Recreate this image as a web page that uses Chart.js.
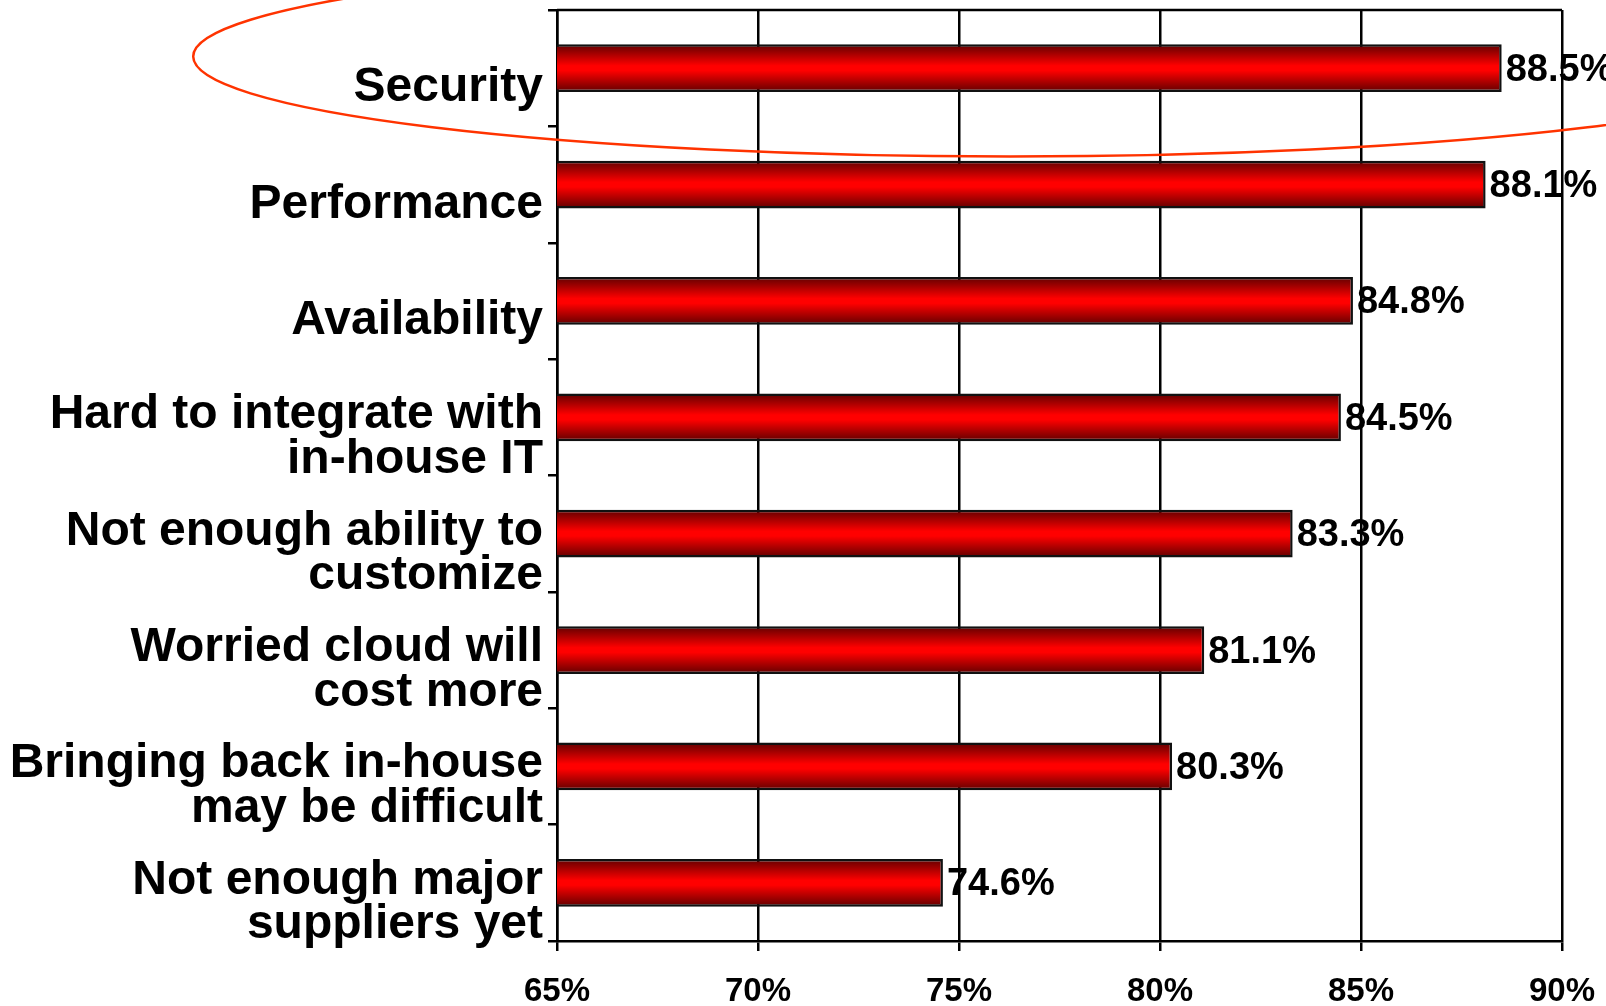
<!DOCTYPE html>
<html>
<head>
<meta charset="utf-8">
<script src="https://cdn.jsdelivr.net/npm/chart.js@4/dist/chart.umd.min.js"></script>
<style>
  html, body { margin: 0; padding: 0; background: #ffffff; }
  #wrap { width: 1606px; height: 1006px; position: relative; }
</style>
</head>
<body>
<div id="wrap"><canvas id="c"></canvas></div>
<script>
// ---- data ----
const categories = [
  'Security',
  'Performance',
  'Availability',
  ['Hard to integrate with', 'in-house IT'],
  ['Not enough ability to', 'customize'],
  ['Worried cloud will', 'cost more'],
  ['Bringing back in-house', 'may be difficult'],
  ['Not enough major', 'suppliers yet']
];
const values = [88.5, 88.1, 84.8, 84.5, 83.3, 81.1, 80.3, 74.6];
const axisMin = 65;
const axisMax = 90;
const axisStep = 5;
const highlightIndex = 0; // "Security" is circled

const FONT = '"Liberation Sans", Arial, Helvetica, sans-serif';
const BAR_PCT = 0.41;

function barGradient(ctx) {
  const chart = ctx.chart;
  const ys = chart.scales && chart.scales.y;
  if (!chart.chartArea || !ys) return '#ff0000';
  const c = ys.getPixelForValue(ctx.dataIndex);
  const band = Math.abs(ys.getPixelForValue(1) - ys.getPixelForValue(0));
  const h = band * BAR_PCT;
  const g = chart.ctx.createLinearGradient(0, c - h / 2, 0, c + h / 2);
  g.addColorStop(0, '#600000');
  g.addColorStop(0.45, '#ff0000');
  g.addColorStop(0.55, '#ff0000');
  g.addColorStop(1, '#600000');
  return g;
}

const valueLabels = {
  id: 'valueLabels',
  afterDatasetsDraw(chart) {
    const ctx = chart.ctx;
    const meta = chart.getDatasetMeta(0);
    ctx.save();
    ctx.font = 'bold 38px ' + FONT;
    ctx.fillStyle = '#000000';
    ctx.textAlign = 'left';
    ctx.textBaseline = 'middle';
    meta.data.forEach((el, i) => {
      ctx.fillText(values[i].toFixed(1) + '%', el.x + 4, el.y + 2);
    });
    ctx.restore();
  }
};

const frameTop = {
  id: 'frameTop',
  afterDraw(chart) {
    const a = chart.chartArea;
    const ctx = chart.ctx;
    ctx.save();
    ctx.strokeStyle = '#000000';
    ctx.lineWidth = 2.5;
    ctx.beginPath();
    ctx.moveTo(a.left, a.top);
    ctx.lineTo(a.right, a.top);
    ctx.stroke();
    ctx.restore();
  }
};

const highlight = {
  id: 'highlight',
  afterDraw(chart) {
    const ctx = chart.ctx;
    const xs = chart.scales.x, ys = chart.scales.y;
    const band = Math.abs(ys.getPixelForValue(1) - ys.getPixelForValue(0));
    const cy = ys.getPixelForValue(highlightIndex) - band * 0.1;
    const cx = xs.getPixelForValue(76.27);
    const rx = cx - xs.getPixelForValue(55.95);
    const ry = band * 0.859;
    ctx.save();
    ctx.strokeStyle = '#ff3300';
    ctx.lineWidth = 2.5;
    ctx.beginPath();
    ctx.ellipse(cx, cy, rx, ry, 0, 0, Math.PI * 2);
    ctx.stroke();
    ctx.restore();
  }
};

new Chart(document.getElementById('c'), {
  type: 'bar',
  data: {
    labels: categories,
    datasets: [{
      data: values,
      backgroundColor: barGradient,
      borderColor: '#111111',
      borderWidth: 2.5,
      borderSkipped: false,
      barPercentage: BAR_PCT,
      categoryPercentage: 1.0
    }]
  },
  options: {
    indexAxis: 'y',
    responsive: true,
    maintainAspectRatio: false,
    animation: false,
    events: [],
    layout: { padding: { top: 10, right: 44, left: 0, bottom: 0 } },
    plugins: {
      legend: { display: false },
      tooltip: { enabled: false },
      title: { display: false }
    },
    scales: {
      x: {
        type: 'linear',
        min: axisMin,
        max: axisMax,
        ticks: {
          stepSize: axisStep,
          color: '#000000',
          font: { family: FONT, size: 33, weight: 'bold' },
          padding: 21,
          callback: (v) => v + '%'
        },
        grid: {
          color: '#000000',
          lineWidth: 2.5,
          tickLength: 10,
          drawTicks: true
        },
        border: { color: '#000000', width: 2.5 },
        afterFit(scale) {
          scale.height = 65;
          scale.paddingLeft = 0;
          scale.paddingRight = 0;
        }
      },
      y: {
        type: 'category',
        ticks: {
          color: '#000000',
          font: { family: FONT, size: 48, weight: 'bold', lineHeight: 0.93 },
          padding: 5,
          labelOffset: 20,
          autoSkip: false
        },
        grid: {
          offset: true,
          drawOnChartArea: false,
          drawTicks: true,
          tickLength: 9,
          color: '#000000',
          lineWidth: 2.5
        },
        border: { color: '#000000', width: 2.5 },
        afterFit(scale) {
          scale.width = 557;
          scale.paddingTop = 0;
          scale.paddingBottom = 0;
        }
      }
    }
  },
  plugins: [valueLabels, frameTop, highlight]
});
</script>
</body>
</html>
